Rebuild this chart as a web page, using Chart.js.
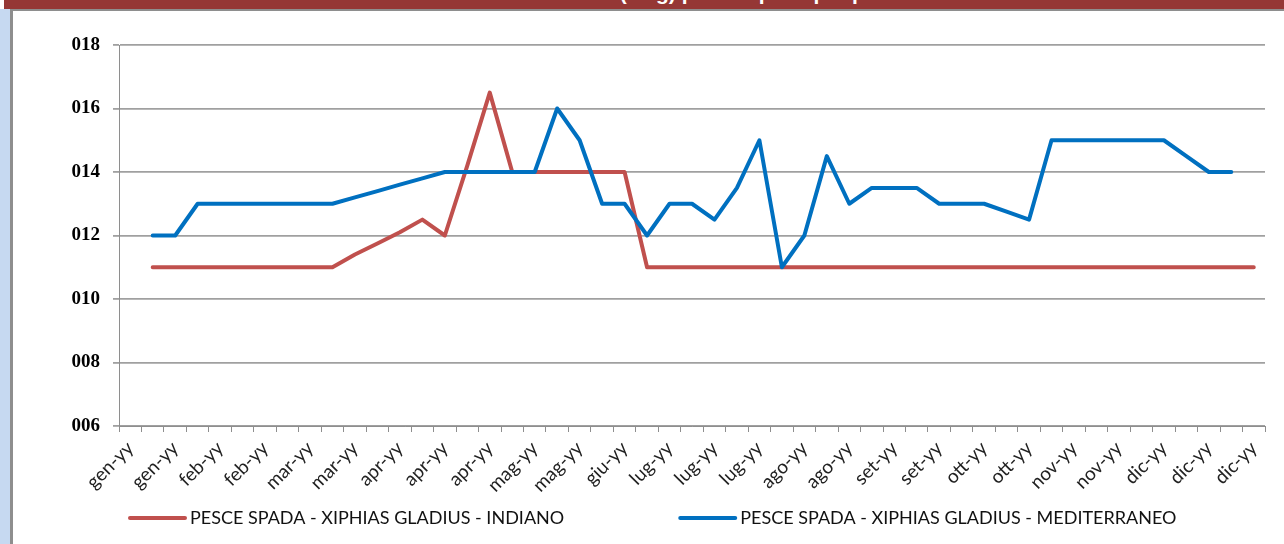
<!DOCTYPE html>
<html>
<head>
<meta charset="utf-8">
<script src="https://cdn.jsdelivr.net/npm/chart.js@4.4.0/dist/chart.umd.min.js"></script>
<style>
  html, body { margin: 0; padding: 0; background: #fff; width: 1284px; height: 544px; overflow: hidden; }
  #side { position: absolute; left: 0; top: 9px; width: 10px; height: 535px; background: #c6d9f1; }
  #bar { position: absolute; left: 4px; top: 0; width: 1280px; height: 9px; background: #953735; overflow: hidden; }
  #bar span { position: absolute; left: 0; top: -19px; width: 100%; text-align: center; padding-left: 240px; box-sizing: border-box;
              color: #fff; font: bold 21px "Liberation Sans", sans-serif; white-space: nowrap; }
  #box { position: absolute; left: 10px; top: 9px; width: 1271px; height: 533px; background: #fff;
         border-left: 3px solid #8e8e8e; border-top: 2px solid #8e8e8e; }
</style>
</head>
<body>
<div id="side"></div>
<div id="bar"><span>Prezzi (€/kg) pesce spada per provenienza</span></div>
<div id="box"><canvas id="lineChart" width="1271" height="533"></canvas></div>
<script>
// categories (weeks), only every other one gets a visible label
const weekLabels = [
  'gen-yy', 'gen-yy', 'gen-yy', 'feb-yy', 'feb-yy', 'feb-yy', 'feb-yy', 'mar-yy', 'mar-yy', 'mar-yy',
  'mar-yy', 'apr-yy', 'apr-yy', 'apr-yy', 'apr-yy', 'apr-yy', 'apr-yy', 'mag-yy', 'mag-yy', 'mag-yy',
  'mag-yy', 'giu-yy', 'giu-yy', 'lug-yy', 'lug-yy', 'lug-yy', 'lug-yy', 'lug-yy', 'lug-yy', 'ago-yy',
  'ago-yy', 'ago-yy', 'ago-yy', 'set-yy', 'set-yy', 'set-yy', 'set-yy', 'ott-yy', 'ott-yy', 'ott-yy',
  'ott-yy', 'nov-yy', 'nov-yy', 'nov-yy', 'nov-yy', 'dic-yy', 'dic-yy', 'dic-yy', 'dic-yy', 'dic-yy',
  'dic-yy'
];

const indianoPrices = [
  null, 11, 11, 11, 11, 11, 11, 11, 11, 11,
  11.4, 11.75, 12.1, 12.5, 12, 14.2, 16.5, 14, 14, 14,
  14, 14, 14, 11, 11, 11, 11, 11, 11, 11,
  11, 11, 11, 11, 11, 11, 11, 11, 11, 11,
  11, 11, 11, 11, 11, 11, 11, 11, 11, 11,
  11
];

const mediterraneoPrices = [
  null, 12, 12, 13, 13, 13, 13, 13, 13, 13,
  13.2, 13.4, 13.6, 13.8, 14, 14, 14, 14, 14, 16,
  15, 13, 13, 12, 13, 13, 12.5, 13.5, 15, 11,
  12, 14.5, 13, 13.5, 13.5, 13.5, 13, 13, 13, 12.75,
  12.5, 15, 15, 15, 15, 15, 15, 14.5, 14, 14,
  null
];

const seriesNames = ['PESCE SPADA - XIPHIAS GLADIUS - INDIANO', 'PESCE SPADA - XIPHIAS GLADIUS - MEDITERRANEO'];
const seriesColors = ['#c0504d', '#0070c0'];

const yMin = 6, yMax = 18, yStep = 2;

// legend drawn under the axis labels, like the original sheet
const bottomLegend = {
  id: 'bottomLegend',
  afterDraw(chart) {
    const ctx = chart.ctx;
    ctx.save();
    ctx.font = '18px Lato';
    ctx.textBaseline = 'middle';
    let x = 117;
    const y = 507;
    chart.data.datasets.forEach(ds => {
      ctx.strokeStyle = ds.borderColor;
      ctx.lineWidth = 4;
      ctx.lineCap = 'round';
      ctx.beginPath();
      ctx.moveTo(x, y);
      ctx.lineTo(x + 55, y);
      ctx.stroke();
      ctx.fillStyle = '#111';
      ctx.fillText(ds.label, x + 60, y);
      x += 60 + ctx.measureText(ds.label).width + 116;
    });
    ctx.restore();
  }
};

var ctx = document.getElementById('lineChart').getContext('2d');
var lineChart = new Chart(ctx, {
  type: 'line',
  data: {
    labels: weekLabels,
    datasets: [{
      label: seriesNames[0],
      data: indianoPrices,
      borderColor: seriesColors[0],
      backgroundColor: seriesColors[0],
      borderWidth: 4,
      pointRadius: 0,
      tension: 0,
      borderCapStyle: 'round',
      borderJoinStyle: 'round',
      order: 1
    }, {
      label: seriesNames[1],
      data: mediterraneoPrices,
      borderColor: seriesColors[1],
      backgroundColor: seriesColors[1],
      borderWidth: 4,
      pointRadius: 0,
      tension: 0,
      borderCapStyle: 'round',
      borderJoinStyle: 'round',
      order: 0
    }]
  },
  options: {
    responsive: false,
    animation: false,
    devicePixelRatio: 1,
    layout: { padding: { top: 34, right: 19, bottom: 0, left: 0 } },
    plugins: {
      legend: { display: false },
      tooltip: { enabled: false }
    },
    scales: {
      x: {
        offset: true,
        grid: { offset: true, drawOnChartArea: false, drawTicks: true, tickLength: 6, color: '#8e8e8e' },
        border: { color: '#8e8e8e' },
        ticks: {
          autoSkip: false,
          minRotation: 45,
          maxRotation: 45,
          padding: 5,
          color: '#222',
          font: { family: 'Lato', size: 19 },
          callback: function(value, index) {
            return index % 2 === 0 ? this.getLabelForValue(value) : '';
          }
        },
        afterFit: scale => { scale.height = 118; }
      },
      y: {
        min: yMin,
        max: yMax,
        grid: { color: '#a0a0a0', lineWidth: 1.8, tickLength: 6 },
        border: { color: '#8e8e8e' },
        ticks: {
          stepSize: yStep,
          padding: 13,
          color: '#000',
          font: { family: 'Liberation Serif', size: 19, weight: 'bold' },
          callback: v => String(v).padStart(3, '0')
        },
        afterFit: scale => { scale.width = 106; }
      }
    }
  },
  plugins: [bottomLegend]
});
</script>
</body>
</html>
